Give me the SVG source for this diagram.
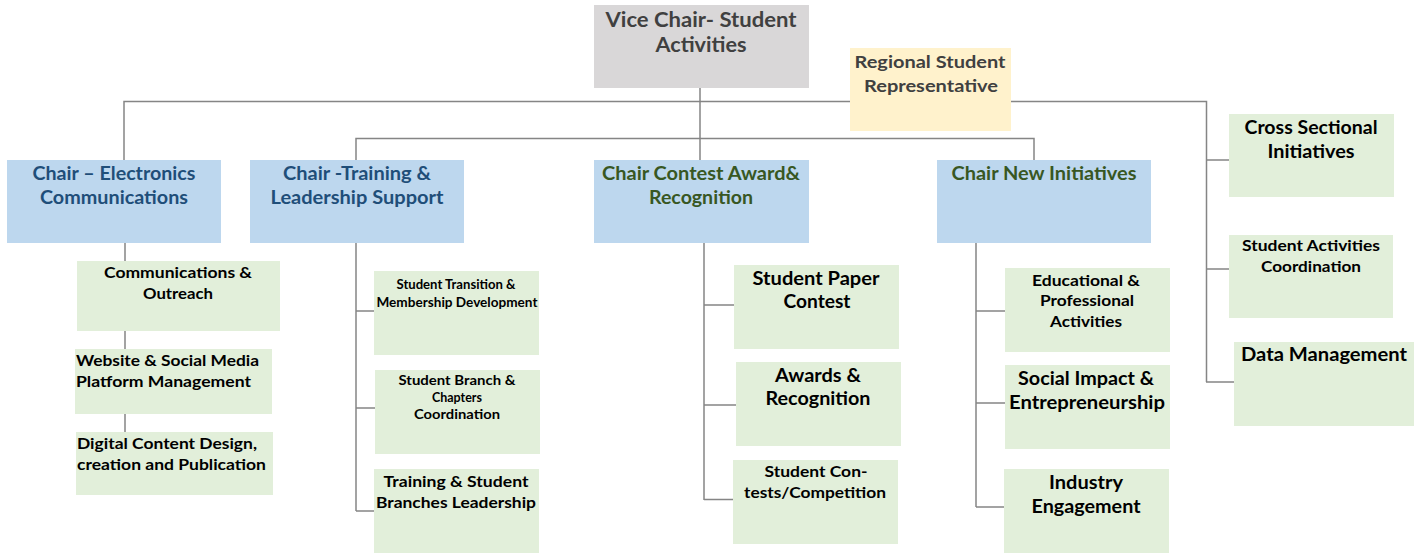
<svg xmlns="http://www.w3.org/2000/svg" width="1423" height="553" viewBox="0 0 1423 553">
<style>
text{font-family:Lato,"Open Sans","Liberation Sans",sans-serif;font-weight:bold;text-anchor:middle}
.l{text-anchor:start}
.vc{fill:#d9d7d8}
.rs{fill:#fff2cc}
.ch{fill:#bdd7ee}
.gr{fill:#e2efda}
.tg{fill:#404040}
.tb{fill:#1f4e79}
.tn{fill:#385723}
.tk{fill:#000}
.t21{font-size:21px}.t18{font-size:18px}.t17{font-size:17.5px}.t16{font-size:16px}.t15{font-size:15px}.t14{font-size:14px}.t13{font-size:13.5px}
.cn{fill:none;stroke:#858585;stroke-width:1.5}
</style>
<rect width="1423" height="553" fill="#fff"/>
<g id="connectors" class="cn">
<path d="M124 160V101.5H1206.5V382"/>
<path d="M700 88V160"/>
<path d="M356 160V138.5H1034V160"/>
<path d="M1206 160H1229M1206 269H1229M1206 382H1234"/>
<path d="M125 243V262M125 330V349M125 413V432"/>
<path d="M356 243V511M356 311H374M356 408H375M356 511H374"/>
<path d="M704 243V500M704 305H734M704 405H736M704 499.5H733"/>
<path d="M976 243V507M976 311H1005M976 403H1005M976 507H1004"/>
</g>
<g id="vice-chair">
<rect class="vc" x="594" y="5" width="215" height="83"/>
<text class="tg t21" x="701" y="27" textLength="191" lengthAdjust="spacingAndGlyphs">Vice Chair- Student</text>
<text class="tg t21" x="701" y="52" textLength="91" lengthAdjust="spacingAndGlyphs">Activities</text>
</g>
<g id="regional-rep">
<rect class="rs" x="850" y="48" width="161" height="83"/>
<text class="tg t17" x="930" y="68" textLength="151" lengthAdjust="spacingAndGlyphs">Regional Student</text>
<text class="tg t17" x="931" y="92" textLength="134" lengthAdjust="spacingAndGlyphs">Representative</text>
</g>
<g id="chair-electronics">
<rect class="ch" x="7" y="160" width="214" height="83"/>
<text class="tb t18" x="114" y="180" textLength="163" lengthAdjust="spacingAndGlyphs">Chair – Electronics</text>
<text class="tb t18" x="114" y="204" textLength="148" lengthAdjust="spacingAndGlyphs">Communications</text>
</g>
<g id="chair-training">
<rect class="ch" x="250" y="160" width="214" height="83"/>
<text class="tb t18" x="357" y="180" textLength="148" lengthAdjust="spacingAndGlyphs">Chair -Training &amp;</text>
<text class="tb t18" x="357" y="204" textLength="173" lengthAdjust="spacingAndGlyphs">Leadership Support</text>
</g>
<g id="chair-contest">
<rect class="ch" x="594" y="160" width="215" height="83"/>
<text class="tn t18" x="701" y="180" textLength="198" lengthAdjust="spacingAndGlyphs">Chair Contest Award&amp;</text>
<text class="tn t18" x="701" y="204" textLength="104" lengthAdjust="spacingAndGlyphs">Recognition</text>
</g>
<g id="chair-new">
<rect class="ch" x="937" y="160" width="214" height="83"/>
<text class="tn t18" x="1044" y="180" textLength="185" lengthAdjust="spacingAndGlyphs">Chair New Initiatives</text>
</g>
<g id="cross-sectional">
<rect class="gr" x="1229" y="114" width="165" height="83"/>
<text class="tk t18" x="1311" y="134" textLength="133" lengthAdjust="spacingAndGlyphs">Cross Sectional</text>
<text class="tk t18" x="1311" y="158" textLength="87" lengthAdjust="spacingAndGlyphs">Initiatives</text>
</g>
<g id="student-activities-coordination">
<rect class="gr" x="1229" y="235" width="164" height="83"/>
<text class="tk t15" x="1311" y="251" textLength="138" lengthAdjust="spacingAndGlyphs">Student Activities</text>
<text class="tk t15" x="1311" y="272" textLength="100" lengthAdjust="spacingAndGlyphs">Coordination</text>
</g>
<g id="data-management">
<rect class="gr" x="1234" y="342" width="180" height="84"/>
<text class="tk t18" x="1324" y="361" textLength="166" lengthAdjust="spacingAndGlyphs">Data Management</text>
</g>
<g id="communications-outreach">
<rect class="gr" x="77" y="261" width="203" height="70"/>
<text class="tk t15" x="178" y="278" textLength="148" lengthAdjust="spacingAndGlyphs">Communications &amp;</text>
<text class="tk t15" x="178" y="299" textLength="70" lengthAdjust="spacingAndGlyphs">Outreach</text>
</g>
<g id="website-social-media">
<rect class="gr" x="75" y="349" width="197" height="65"/>
<text class="tk t16 l" x="76" y="366" textLength="183" lengthAdjust="spacingAndGlyphs">Website &amp; Social Media</text>
<text class="tk t16 l" x="76" y="387" textLength="175" lengthAdjust="spacingAndGlyphs">Platform Management</text>
</g>
<g id="digital-content">
<rect class="gr" x="76" y="432" width="197" height="63"/>
<text class="tk t16 l" x="77" y="449" textLength="180" lengthAdjust="spacingAndGlyphs">Digital Content Design,</text>
<text class="tk t16 l" x="77" y="470" textLength="189" lengthAdjust="spacingAndGlyphs">creation and Publication</text>
</g>
<g id="student-transition">
<rect class="gr" x="374" y="271" width="165" height="84"/>
<text class="tk t14" x="456" y="289" textLength="119" lengthAdjust="spacingAndGlyphs">Student Transition &amp;</text>
<text class="tk t14" x="457" y="307" textLength="161" lengthAdjust="spacingAndGlyphs">Membership Development</text>
</g>
<g id="student-branch-chapters">
<rect class="gr" x="375" y="370" width="165" height="84"/>
<text class="tk t13" x="457" y="385" textLength="117" lengthAdjust="spacingAndGlyphs">Student Branch &amp;</text>
<text class="tk t13" x="457" y="402" textLength="50" lengthAdjust="spacingAndGlyphs">Chapters</text>
<text class="tk t13" x="457" y="419" textLength="86" lengthAdjust="spacingAndGlyphs">Coordination</text>
</g>
<g id="training-student-branches">
<rect class="gr" x="374" y="469" width="165" height="84"/>
<text class="tk t16" x="456" y="487" textLength="145" lengthAdjust="spacingAndGlyphs">Training &amp; Student</text>
<text class="tk t16" x="456" y="508" textLength="160" lengthAdjust="spacingAndGlyphs">Branches Leadership</text>
</g>
<g id="student-paper-contest">
<rect class="gr" x="734" y="265" width="165" height="84"/>
<text class="tk t18" x="816" y="285" textLength="127" lengthAdjust="spacingAndGlyphs">Student Paper</text>
<text class="tk t18" x="817" y="308" textLength="67" lengthAdjust="spacingAndGlyphs">Contest</text>
</g>
<g id="awards-recognition">
<rect class="gr" x="736" y="362" width="165" height="84"/>
<text class="tk t18" x="818" y="382" textLength="86" lengthAdjust="spacingAndGlyphs">Awards &amp;</text>
<text class="tk t18" x="818" y="405" textLength="105" lengthAdjust="spacingAndGlyphs">Recognition</text>
</g>
<g id="student-contests">
<rect class="gr" x="733" y="460" width="165" height="84"/>
<text class="tk t15" x="816" y="477" textLength="103" lengthAdjust="spacingAndGlyphs">Student Con-</text>
<text class="tk t15" x="815" y="498" textLength="142" lengthAdjust="spacingAndGlyphs">tests/Competition</text>
</g>
<g id="educational-professional">
<rect class="gr" x="1005" y="268" width="165" height="84"/>
<text class="tk t15" x="1086" y="286" textLength="108" lengthAdjust="spacingAndGlyphs">Educational &amp;</text>
<text class="tk t15" x="1087" y="306" textLength="94" lengthAdjust="spacingAndGlyphs">Professional</text>
<text class="tk t15" x="1086" y="327" textLength="72" lengthAdjust="spacingAndGlyphs">Activities</text>
</g>
<g id="social-impact">
<rect class="gr" x="1005" y="365" width="165" height="84"/>
<text class="tk t18" x="1086" y="385" textLength="136" lengthAdjust="spacingAndGlyphs">Social Impact &amp;</text>
<text class="tk t18" x="1087" y="409" textLength="156" lengthAdjust="spacingAndGlyphs">Entrepreneurship</text>
</g>
<g id="industry-engagement">
<rect class="gr" x="1004" y="469" width="165" height="84"/>
<text class="tk t18" x="1086" y="489" textLength="74" lengthAdjust="spacingAndGlyphs">Industry</text>
<text class="tk t18" x="1086" y="513" textLength="109" lengthAdjust="spacingAndGlyphs">Engagement</text>
</g>
</svg>
